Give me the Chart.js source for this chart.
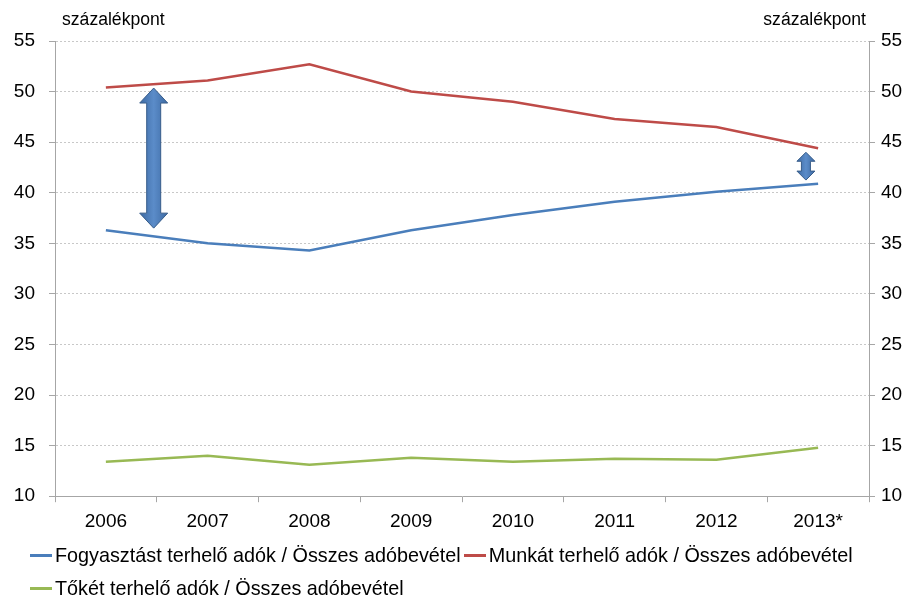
<!DOCTYPE html>
<html lang="hu">
<head>
<meta charset="utf-8">
<script src="https://cdn.jsdelivr.net/npm/chart.js@4.4.0/dist/chart.umd.min.js"></script>
<style>
  html, body { margin: 0; padding: 0; background: #fff; }
  #wrap { position: relative; width: 914px; height: 597px; }
  #legend {
    position: absolute; left: 30px; top: 539px; width: 870px;
    display: flex; flex-wrap: wrap;
    font-family: "Liberation Sans", Arial, sans-serif; font-size: 19.8px; color: #000;
  }
  .item { display: flex; align-items: center; white-space: nowrap; height: 33px; margin-right: 3px; }
  .swatch { width: 22px; height: 3px; margin-right: 3px; }
</style>
</head>
<body>
<div id="wrap">
  <canvas id="chart" width="914" height="597"></canvas>
  <div id="legend"></div>
</div>
<script>
// --- Data ---
const years = ['2006', '2007', '2008', '2009', '2010', '2011', '2012', '2013*'];
const fogyasztas = [36.3, 35.0, 34.3, 36.3, 37.8, 39.1, 40.1, 40.9];
const munka = [50.4, 51.1, 52.7, 50.0, 49.0, 47.3, 46.5, 44.4];
const toke = [13.4, 14.0, 13.1, 13.8, 13.4, 13.7, 13.6, 14.8];
const seriesNames = [
  'Fogyasztást terhelő adók / Összes adóbevétel',
  'Munkát terhelő adók / Összes adóbevétel',
  'Tőkét terhelő adók / Összes adóbevétel'
];
const yMin = 10, yMax = 55, yStep = 5;
const axisTitle = 'százalékpont';
// gap arrows (category index, top value, bottom value)
const gapArrows = [
  { x: 0.47, top: 50.35, bottom: 36.5 },
  { x: 6.88, top: 44.0, bottom: 41.25 }
];

// --- Styles ---
const FONT = '"Liberation Sans", Arial, sans-serif';
const colors = ['#4a7ebb', '#be4b48', '#98b954'];
const arrowSizes = [
  { head: 28, body: 14, headLen: 15 },
  { head: 18, body: 9, headLen: 9 }
];
const AXIS_GRAY = '#a6a6a6';

Chart.defaults.font.family = FONT;
Chart.defaults.font.size = 19;
Chart.defaults.color = '#000';

// draws the two double arrows and the "százalékpont" titles
const extras = {
  id: 'extras',
  afterDatasetsDraw(chart) {
    const { ctx, scales: { x, y }, chartArea } = chart;
    gapArrows.forEach((a, i) => {
      const s = arrowSizes[i];
      const cx = x.getPixelForValue(a.x);
      const t = y.getPixelForValue(a.top);
      const b = y.getPixelForValue(a.bottom);
      const hw = s.head / 2, bw = s.body / 2;
      ctx.save();
      ctx.beginPath();
      ctx.moveTo(cx, t);
      ctx.lineTo(cx + hw, t + s.headLen);
      ctx.lineTo(cx + bw, t + s.headLen);
      ctx.lineTo(cx + bw, b - s.headLen);
      ctx.lineTo(cx + hw, b - s.headLen);
      ctx.lineTo(cx, b);
      ctx.lineTo(cx - hw, b - s.headLen);
      ctx.lineTo(cx - bw, b - s.headLen);
      ctx.lineTo(cx - bw, t + s.headLen);
      ctx.lineTo(cx - hw, t + s.headLen);
      ctx.closePath();
      const g = ctx.createLinearGradient(cx - hw, 0, cx + hw, 0);
      g.addColorStop(0, '#3d6aa3');
      g.addColorStop(0.5, '#5b8cc9');
      g.addColorStop(1, '#3d6aa3');
      ctx.fillStyle = g;
      ctx.fill();
      ctx.lineWidth = 1;
      ctx.strokeStyle = '#385d8a';
      ctx.stroke();
      ctx.restore();
    });
    ctx.save();
    ctx.font = '17.6px ' + FONT;
    ctx.fillStyle = '#000';
    ctx.textBaseline = 'middle';
    ctx.textAlign = 'left';
    ctx.fillText(axisTitle, chartArea.left + 7, 20);
    ctx.textAlign = 'right';
    ctx.fillText(axisTitle, chartArea.right - 3, 20);
    ctx.restore();
  }
};

function lineSet(label, data, color) {
  return {
    label: label,
    data: data,
    borderColor: color,
    backgroundColor: color,
    borderWidth: 2.5,
    pointRadius: 0,
    tension: 0,
    yAxisID: 'y'
  };
}

const chart = new Chart(document.getElementById('chart'), {
  type: 'line',
  data: {
    labels: years,
    datasets: [
      lineSet(seriesNames[0], fogyasztas, colors[0]),
      lineSet(seriesNames[1], munka, colors[1]),
      lineSet(seriesNames[2], toke, colors[2])
    ]
  },
  options: {
    responsive: false,
    animation: false,
    layout: { padding: { top: 41, bottom: 56, left: 0, right: 0 } },
    plugins: {
      legend: { display: false },
      tooltip: { enabled: false }
    },
    scales: {
      x: {
        offset: true,
        grid: { drawOnChartArea: false, offset: true, tickLength: 6, tickColor: AXIS_GRAY },
        border: { color: AXIS_GRAY },
        ticks: { padding: 8, maxRotation: 0 }
      },
      y: {
        position: 'left',
        min: yMin, max: yMax,
        ticks: { stepSize: yStep, padding: 14 },
        grid: { color: '#c8c8c8', tickLength: 6, tickColor: AXIS_GRAY, tickBorderDash: [] },
        border: { color: AXIS_GRAY, dash: [2, 2] },
        afterFit(scale) { scale.width = 55; }
      },
      y2: {
        position: 'right',
        min: yMin, max: yMax,
        ticks: { stepSize: yStep, padding: 6 },
        grid: { drawOnChartArea: false, tickLength: 6, tickColor: AXIS_GRAY },
        border: { color: AXIS_GRAY },
        afterFit(scale) { scale.width = 45; }
      }
    }
  },
  plugins: [extras]
});

// --- HTML legend ---
const legend = document.getElementById('legend');
chart.data.datasets.forEach(ds => {
  const item = document.createElement('div');
  item.className = 'item';
  const sw = document.createElement('span');
  sw.className = 'swatch';
  sw.style.background = ds.borderColor;
  const tx = document.createElement('span');
  tx.textContent = ds.label;
  item.appendChild(sw);
  item.appendChild(tx);
  legend.appendChild(item);
});
</script>
</body>
</html>
